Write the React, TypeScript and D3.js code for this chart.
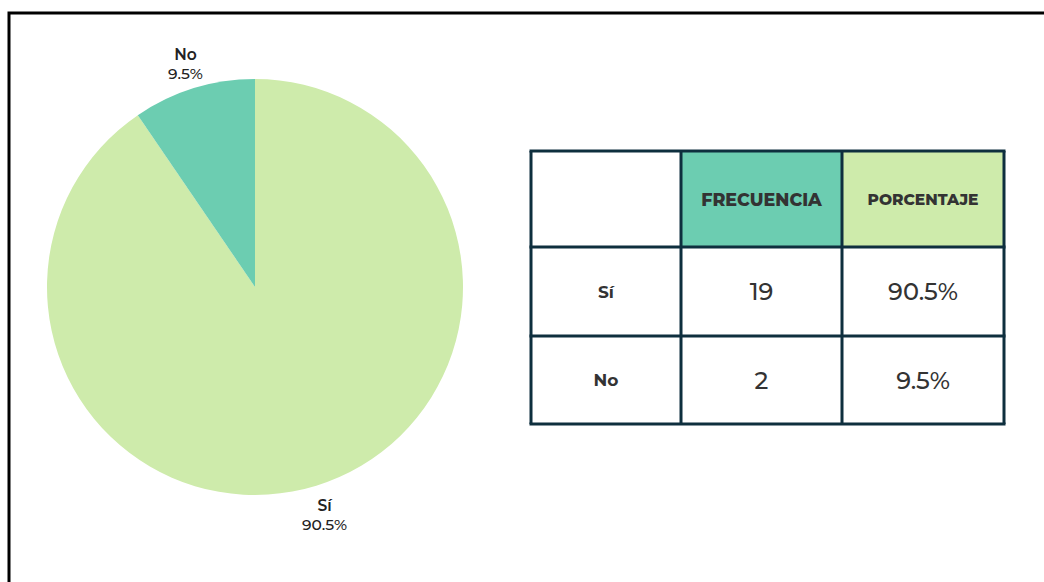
import React, { useEffect, useRef } from 'react';
import * as d3 from 'd3';

const categories = ['Sí', 'No'];
const frequencies = [19, 2];
const percentLabels = ['90.5%', '9.5%'];
const headers = ['', 'FRECUENCIA', 'PORCENTAJE'];
const sliceColors = ['#ceebab', '#6ccdb1'];

const W = 1044;
const H = 582;
const FONT = 'Montserrat, "Noto Sans", sans-serif';

const App: React.FC = () => {
  const svgRef = useRef<SVGSVGElement>(null);

  useEffect(() => {
    if (!svgRef.current) return;
    const svg = d3.select(svgRef.current);
    svg.selectAll('*').remove();

    // frame
    svg.append('path')
      .attr('d', `M9,${H} V13 H${W}`)
      .attr('fill', 'none')
      .attr('stroke', '#000')
      .attr('stroke-width', 3);

    // pie
    const cx = 255, cy = 287, r = 208;
    const data = categories.map((c, i) => ({ cat: c, value: frequencies[i], label: percentLabels[i], i }));
    type D = typeof data[number];
    const pie = d3.pie<D>().value(d => d.value).sort(null);
    const arcs = pie(data);
    const arc = d3.arc<d3.PieArcDatum<D>>().innerRadius(0).outerRadius(r);
    const g = svg.append('g').attr('transform', `translate(${cx},${cy})`);
    g.selectAll('path')
      .data(arcs)
      .join('path')
      .attr('d', arc)
      .attr('fill', d => sliceColors[d.data.i]);

    const labelArc = d3.arc<d3.PieArcDatum<D>>().innerRadius(r + 28).outerRadius(r + 28);
    arcs.forEach(a => {
      const [lx, ly] = labelArc.centroid(a);
      g.append('text')
        .attr('x', lx)
        .attr('y', ly - 1.5)
        .attr('text-anchor', 'middle')
        .attr('font-family', FONT)
        .attr('font-size', 15.5)
        .attr('font-weight', 600)
        .attr('fill', '#222')
        .text(a.data.cat);
      g.append('text')
        .attr('x', lx)
        .attr('y', ly + 17.5)
        .attr('text-anchor', 'middle')
        .attr('font-family', FONT)
        .attr('font-size', 15.5)
        .attr('font-weight', 500)
        .attr('fill', '#222')
        .text(a.data.label);
    });

    // table
    const colEdges = [531, 681, 842, 1004];
    const rowEdges = [151, 247, 336, 424];
    const tg = svg.append('g');
    const headerFill = ['#ffffff', '#6ccdb1', '#ceebab'];
    headers.forEach((h, c) => {
      tg.append('rect')
        .attr('x', colEdges[c]).attr('y', rowEdges[0])
        .attr('width', colEdges[c + 1] - colEdges[c])
        .attr('height', rowEdges[1] - rowEdges[0])
        .attr('fill', headerFill[c]);
      if (h) {
        tg.append('text')
          .attr('x', (colEdges[c] + colEdges[c + 1]) / 2)
          .attr('y', c === 1 ? 206 : 204.5)
          .attr('text-anchor', 'middle')
          .attr('font-family', FONT)
          .attr('font-weight', 800)
          .attr('font-size', c === 1 ? 17.5 : 15.5)
          .attr('fill', '#333')
          .text(h);
      }
    });
    categories.forEach((cat, i) => {
      const r0 = rowEdges[i + 1], r1 = rowEdges[i + 2];
      const cyRow = (r0 + r1) / 2;
      const cells = [cat, String(frequencies[i]), percentLabels[i]];
      cells.forEach((v, c) => {
        tg.append('text')
          .attr('x', (colEdges[c] + colEdges[c + 1]) / 2)
          .attr('y', cyRow + (c === 0 ? 6 : 8.5))
          .attr('text-anchor', 'middle')
          .attr('font-family', FONT)
          .attr('font-weight', c === 0 ? 700 : 500)
          .attr('font-size', c === 0 ? 17 : 24)
          .attr('fill', '#333')
          .text(v);
      });
    });
    const stroke = '#0e2f3e';
    colEdges.forEach(x0 => {
      tg.append('line')
        .attr('x1', x0).attr('x2', x0)
        .attr('y1', rowEdges[0]).attr('y2', rowEdges[3])
        .attr('stroke', stroke).attr('stroke-width', 3);
    });
    rowEdges.forEach(ry => {
      tg.append('line')
        .attr('x1', colEdges[0] - 1.5).attr('x2', colEdges[3] + 1.5)
        .attr('y1', ry).attr('y2', ry)
        .attr('stroke', stroke).attr('stroke-width', 3);
    });
  }, []);

  return (
    <svg
      ref={svgRef}
      width={W}
      height={H}
      style={{ position: 'absolute', left: 0, top: 0, background: '#fff' }}
    />
  );
};

export default App;
